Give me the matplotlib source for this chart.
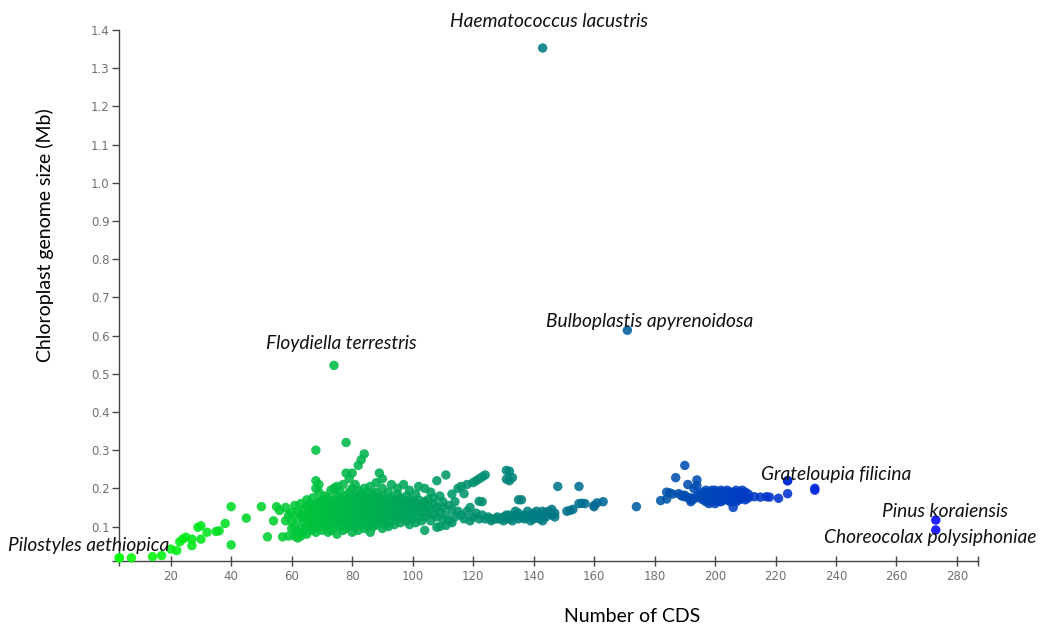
import matplotlib
matplotlib.use("Agg")
import matplotlib.pyplot as plt
import numpy as np

# sparse green tail, small genomes (CDS, Mb)
low_cds = [3, 7, 14, 17, 20, 22, 23, 24, 25, 27, 27, 29, 30, 30, 32, 35, 36, 38,
           40, 40, 45, 50, 52, 54, 55, 56, 57]
low_size = [0.018, 0.018, 0.021, 0.024, 0.041, 0.037, 0.06, 0.067, 0.072, 0.05,
            0.067, 0.098, 0.102, 0.067, 0.085, 0.087, 0.089, 0.108, 0.152, 0.052,
            0.122, 0.152, 0.073, 0.115, 0.152, 0.142, 0.073]

# dense cluster, one column of sizes per CDS count
core_cds = list(range(58, 116))
core_sizes = [
    [0.115, 0.15], [0.075, 0.13], [0.137, 0.115, 0.095], [0.10, 0.155, 0.075],
    [0.07, 0.12, 0.14, 0.085], [0.095, 0.13, 0.16, 0.075], [0.085, 0.11, 0.145, 0.125],
    [0.10, 0.13, 0.155, 0.17, 0.08], [0.09, 0.115, 0.14, 0.16, 0.105],
    [0.095, 0.125, 0.15, 0.175, 0.11, 0.135],
    [0.30, 0.22, 0.20, 0.105, 0.13, 0.155, 0.085, 0.14],
    [0.21, 0.19, 0.12, 0.145, 0.165, 0.10, 0.135],
    [0.11, 0.13, 0.15, 0.17, 0.09, 0.14, 0.16, 0.12],
    [0.10, 0.125, 0.145, 0.165, 0.18, 0.115, 0.135],
    [0.085, 0.12, 0.14, 0.155, 0.175, 0.13, 0.105, 0.15],
    [0.195, 0.11, 0.13, 0.15, 0.165, 0.09, 0.14, 0.12],
    [0.20, 0.115, 0.135, 0.155, 0.17, 0.10, 0.145, 0.125],
    [0.205, 0.08, 0.12, 0.14, 0.16, 0.18, 0.13, 0.15, 0.11],
    [0.10, 0.125, 0.145, 0.165, 0.19, 0.135, 0.155, 0.115, 0.17],
    [0.09, 0.115, 0.13, 0.15, 0.17, 0.21, 0.14, 0.16, 0.12],
    [0.32, 0.24, 0.105, 0.125, 0.145, 0.16, 0.18, 0.135, 0.155, 0.115, 0.095],
    [0.225, 0.11, 0.13, 0.15, 0.17, 0.19, 0.14, 0.16, 0.12, 0.10],
    [0.24, 0.085, 0.115, 0.135, 0.155, 0.175, 0.20, 0.145, 0.165, 0.125, 0.105],
    [0.10, 0.12, 0.14, 0.16, 0.18, 0.13, 0.15, 0.17, 0.11, 0.21],
    [0.26, 0.09, 0.115, 0.135, 0.155, 0.175, 0.145, 0.165, 0.125, 0.195],
    [0.275, 0.105, 0.125, 0.145, 0.165, 0.185, 0.135, 0.155, 0.115],
    [0.29, 0.095, 0.12, 0.14, 0.16, 0.18, 0.13, 0.15, 0.17, 0.11, 0.20],
    [0.10, 0.125, 0.145, 0.165, 0.19, 0.135, 0.155, 0.115, 0.175],
    [0.085, 0.11, 0.13, 0.15, 0.17, 0.14, 0.16, 0.12, 0.205],
    [0.10, 0.12, 0.145, 0.165, 0.185, 0.135, 0.155, 0.175],
    [0.105, 0.125, 0.15, 0.17, 0.14, 0.16, 0.115, 0.215, 0.19],
    [0.24, 0.11, 0.13, 0.15, 0.175, 0.145, 0.165, 0.12],
    [0.225, 0.095, 0.12, 0.14, 0.16, 0.18, 0.13, 0.155, 0.20],
    [0.105, 0.13, 0.15, 0.17, 0.14, 0.16, 0.115],
    [0.10, 0.125, 0.145, 0.165, 0.19, 0.135, 0.155],
    [0.115, 0.135, 0.155, 0.175, 0.145, 0.21],
    [0.105, 0.13, 0.15, 0.17, 0.14, 0.16],
    [0.12, 0.14, 0.16, 0.20, 0.13, 0.185],
    [0.11, 0.13, 0.155, 0.175, 0.145],
    [0.125, 0.145, 0.165, 0.135, 0.21],
    [0.115, 0.14, 0.16, 0.18, 0.15],
    [0.105, 0.13, 0.15, 0.17, 0.195],
    [0.12, 0.145, 0.165, 0.135],
    [0.11, 0.14, 0.16, 0.185],
    [0.125, 0.15, 0.17, 0.205],
    [0.135, 0.155, 0.115],
    [0.20, 0.145, 0.165, 0.125, 0.09],
    [0.17, 0.135, 0.155],
    [0.115, 0.145, 0.19],
    [0.13, 0.16, 0.175],
    [0.22, 0.125, 0.15, 0.098],
    [0.14, 0.18, 0.10],
    [0.15, 0.12, 0.165],
    [0.235, 0.103, 0.13],
    [0.155, 0.115],
    [0.11, 0.145, 0.185],
    [0.165, 0.125],
    [0.14, 0.20],
]

# teal stretch between the two clusters
mid_cds = [116, 117, 118, 119, 120, 121, 122, 123, 124, 125, 126, 127, 128, 129,
           130, 131, 132, 133, 134, 135, 136, 137, 138, 139, 140, 141, 142, 143,
           144, 145, 146, 147, 148, 151, 152, 153, 155, 156, 157, 160, 161, 163]
mid_sizes = [
    [0.205, 0.13], [0.186, 0.12], [0.21, 0.14], [0.115, 0.15], [0.215, 0.125],
    [0.22, 0.135], [0.225, 0.12, 0.166], [0.165, 0.13, 0.23], [0.12, 0.235],
    [0.125], [0.12, 0.115], [0.12], [0.12, 0.125], [0.12], [0.115, 0.125],
    [0.12, 0.13, 0.224, 0.247], [0.245, 0.22, 0.12, 0.13], [0.228, 0.125, 0.115],
    [0.13, 0.14], [0.12, 0.135, 0.17], [0.17, 0.125], [0.13, 0.12], [0.125, 0.14],
    [0.115, 0.13], [0.12, 0.135], [0.125, 0.14], [0.13, 0.12], [0.14, 0.115],
    [0.135, 0.125], [0.14], [0.13, 0.145], [0.135, 0.125], [0.205], [0.14],
    [0.142], [0.145], [0.205, 0.16], [0.161], [0.16], [0.152, 0.155], [0.162],
    [0.165],
]

# blue cluster
blue_cds = [174, 182, 184, 185, 186, 187, 188, 189, 190, 191, 192, 193, 194, 195,
            196, 197, 198, 199, 200, 201, 202, 203, 204, 205, 206, 207, 208, 209,
            210, 211, 213, 215, 217, 218, 221, 224, 233]
blue_sizes = [
    [0.152], [0.168], [0.19, 0.172], [0.188], [0.185], [0.228], [0.186],
    [0.182, 0.18], [0.26, 0.178, 0.182], [0.21, 0.176], [0.175, 0.17, 0.165],
    [0.20, 0.172], [0.207, 0.222, 0.18], [0.185, 0.175], [0.18, 0.17, 0.19],
    [0.175, 0.185, 0.165, 0.195], [0.18, 0.17, 0.19, 0.16, 0.175],
    [0.185, 0.175, 0.195, 0.165], [0.18, 0.17, 0.19, 0.185, 0.175, 0.16, 0.195],
    [0.18, 0.17, 0.19, 0.175, 0.185, 0.165],
    [0.18, 0.17, 0.19, 0.175, 0.185, 0.195, 0.165], [0.18, 0.175, 0.19, 0.17, 0.185],
    [0.18, 0.17, 0.19, 0.175, 0.185, 0.195], [0.18, 0.175, 0.165, 0.19, 0.185],
    [0.18, 0.17, 0.19, 0.175, 0.15], [0.185, 0.175, 0.18, 0.165, 0.195],
    [0.18, 0.17, 0.19, 0.175], [0.185, 0.175, 0.18, 0.195], [0.18, 0.17, 0.19],
    [0.175, 0.185], [0.178], [0.177], [0.178], [0.177], [0.174], [0.22, 0.186],
    [0.20, 0.195],
]

# labelled species
named_species = ["Haematococcus lacustris", "Bulboplastis apyrenoidosa",
                 "Floydiella terrestris", "Grateloupia filicina", "Pinus koraiensis",
                 "Choreocolax polysiphoniae", "Pilostyles aethiopica"]
named_cds = [143, 171, 74, 224, 273, 273, 3]
named_size = [1.353, 0.614, 0.522, 0.22, 0.117, 0.091, 0.018]
# label offsets in pixels from the point, and horizontal alignment
label_offsets = [(6, 26, "center"), (-81, 9, "left"), (7, 22, "center"),
                 (-27, 6, "left"), (-54, 9, "left"), (-112, -8, "left"),
                 (-111, 12, "left")]


def expand(cds, sizes):
    xs = np.repeat(cds, [len(s) for s in sizes])
    ys = np.concatenate([np.asarray(s, dtype=float) for s in sizes])
    return xs, ys


core_x, core_y = expand(core_cds, core_sizes)
mid_x, mid_y = expand(mid_cds, mid_sizes)
blue_x, blue_y = expand(blue_cds, blue_sizes)

x = np.concatenate([low_cds, core_x, mid_x, blue_x, named_cds]).astype(float)
y = np.concatenate([low_size, core_y, mid_y, blue_y, named_size])

# lime -> blue along the CDS axis
t = (x - x.min()) / (x.max() - x.min())
colors = np.column_stack([np.zeros_like(t), 1 - t, t])

fig = plt.figure(figsize=(10.41, 6.26), dpi=100)
ax = fig.add_axes([0.1146, 0.1046, 0.825, 0.8474])

order = np.argsort(x, kind="stable")
ax.scatter(x[order], y[order], s=46, c=colors[order], alpha=0.88,
           linewidths=0, clip_on=False, zorder=3)

ax.set_xlim(3, 287)
ax.set_ylim(0.011, 1.4)
ax.set_xticks(np.arange(20, 281, 20))
ax.set_yticks(np.round(np.arange(0.1, 1.41, 0.1), 1))
ax.set_yticklabels([f"{v:.1f}" for v in np.arange(0.1, 1.41, 0.1)])
ax.set_xticks([3, 287], minor=True)
ax.set_yticks([0.011], minor=True)

for side in ("top", "right"):
    ax.spines[side].set_visible(False)
for side in ("left", "bottom"):
    ax.spines[side].set_color("#444444")
    ax.spines[side].set_linewidth(1.0)

ax.tick_params(axis="y", which="both", direction="out", length=5, width=1,
               color="#444444", labelcolor="#707070", labelsize=8.5, pad=2)
ax.tick_params(axis="x", which="both", direction="inout", length=7, width=1,
               color="#444444", labelcolor="#707070", labelsize=8.5, pad=3)

ax.set_xlabel("Number of CDS", fontsize=14, family="Lato")
ax.xaxis.set_label_coords(0.597, -0.106)
ax.xaxis.label.set_va("center")
ax.set_ylabel("Chloroplast genome size (Mb)", fontsize=14, family="Lato")
ax.yaxis.set_label_coords(-0.0865, 0.614)
ax.yaxis.label.set_va("center")

for name, cx, cy, (dx, dy, ha) in zip(named_species, named_cds, named_size,
                                      label_offsets):
    ax.annotate(name, xy=(cx, cy), xytext=(dx, dy), textcoords="offset pixels",
                ha=ha, va="center", fontsize=13.8, family="Lato", style="italic",
                color="#111111", zorder=4, annotation_clip=False)

fig.savefig("out.png", dpi=100)
